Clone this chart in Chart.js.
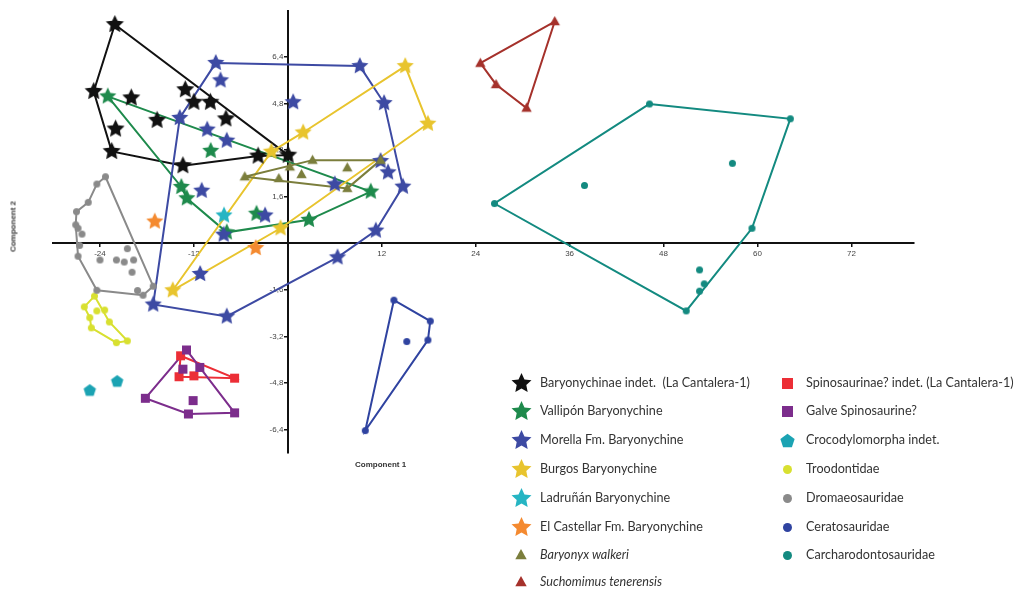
<!DOCTYPE html>
<html><head><meta charset="utf-8">
<script src="https://cdn.jsdelivr.net/npm/chart.js@4.4.1/dist/chart.umd.min.js"></script>
<style>
html,body{margin:0;padding:0;background:#fff;}
#wrap{position:relative;width:1021px;height:592px;overflow:hidden;background:#fff;}
#c{position:absolute;left:0;top:0;}
.axt{position:absolute;font-family:"Liberation Sans",Arial,sans-serif;font-size:8px;font-weight:bold;color:#333;white-space:nowrap;}
.lg{position:absolute;font-family:Lato,"Open Sans",sans-serif;font-size:12.6px;color:#333;white-space:pre;line-height:14px;}
.lm{position:absolute;}
</style></head>
<body><div id="wrap"><canvas id="c" width="1021" height="592"></canvas>
<div class="axt" style="left:355px;top:460px;">Component 1</div>
<div class="axt" style="left:-13px;top:222px;transform:rotate(-90deg);transform-origin:50% 50%;width:52px;text-align:center;">Component 2</div>
<div id="legend"></div>
</div>
<script>
// ---- tick values ----
const xTicks = [-24, -12, 12, 24, 36, 48, 60, 72];
const yTicks = [-6.4, -4.8, -3.2, -1.6, 1.6, 3.2, 4.8, 6.4];

// ---- series: [component1, component2] and hull vertex indices ----
const baryIndet = [[-22.1,7.52],[-24.8,5.22],[-20.0,5.0],[-22.0,3.93],[-22.5,3.16],[-16.7,4.23],[-13.1,5.28],[-12.0,4.85],[-9.9,4.85],[-7.9,4.28],[-13.4,2.67],[-3.8,3.0],[0.04,3.03]];
const baryIndetHull = [0,1,4,10,11,12];
const vallipon = [[-23.0,5.05],[-9.85,3.18],[-13.6,1.94],[-12.9,1.55],[-7.8,0.38],[-4.0,1.02],[2.7,0.81],[10.6,1.78]];
const valliponHull = [0,2,3,4,6,7];
const morella = [[-9.2,6.2],[-8.6,5.6],[9.2,6.09],[0.68,4.85],[12.3,4.82],[-13.8,4.31],[-10.3,3.91],[-7.8,3.53],[11.85,2.83],[12.8,2.44],[14.7,1.95],[6.0,2.03],[-11.0,1.81],[-2.9,0.96],[-8.2,0.30],[11.25,0.44],[6.35,-0.48],[-11.2,-1.05],[-17.2,-2.10],[-7.8,-2.51]];
const morellaHull = [0,2,4,10,15,16,19,18,5];
const burgos = [[15.0,6.09],[17.9,4.11],[1.96,3.81],[-2.1,3.15],[-0.93,0.52],[-14.7,-1.61]];
const burgosHull = [0,1,4,5,3,2];
const ladrunan = [[-8.15,0.96]];
const castellar = [[-17.0,0.75],[-4.1,-0.16]];
const baryonyx = [[-5.5,2.29],[-1.15,2.23],[0.26,2.63],[1.75,2.37],[3.16,2.86],[7.6,2.6],[7.6,1.89],[11.85,2.86]];
const baryonyxHull = [0,4,7,6];
const suchomimus = [[34.1,7.62],[24.6,6.19],[26.6,5.46],[30.5,4.65]];
const suchomimusHull = [0,1,2,3];
const spinoIndet = [[-13.7,-3.86],[-13.9,-4.58],[-12.0,-4.55],[-6.8,-4.63]];
const spinoIndetHull = [0,3,1];
const galve = [[-12.95,-3.66],[-13.4,-4.32],[-11.25,-4.26],[-12.1,-5.40],[-18.2,-5.32],[-12.7,-5.86],[-6.8,-5.82]];
const galveHull = [0,6,5,4];
const croco = [[-25.3,-5.03],[-21.8,-4.72]];
const troodont = [[-24.7,-1.81],[-26.0,-2.18],[-24.4,-2.32],[-23.4,-2.29],[-25.3,-2.55],[-22.8,-2.70],[-25.1,-2.90],[-21.9,-3.41],[-20.5,-3.35]];
const troodontHull = [0,1,4,6,7,8,5];
const dromaeo = [[-23.3,2.29],[-24.4,2.04],[-25.5,1.41],[-27.0,1.09],[-27.1,0.64],[-26.8,0.52],[-26.3,0.32],[-26.6,-0.07],[-26.8,-0.44],[-20.5,-0.18],[-24.0,-0.57],[-21.9,-0.57],[-20.9,-0.64],[-19.7,-0.57],[-19.9,-0.99],[-24.4,-1.61],[-19.2,-1.62],[-18.5,-1.78],[-17.2,-1.47]];
const dromaeoHull = [0,18,17,15,8,4,3,2,1];
const cerato = [[13.55,-1.95],[18.2,-2.67],[17.9,-3.32],[15.2,-3.37],[9.9,-6.43]];
const ceratoHull = [0,1,2,4];
const carcharo = [[46.2,4.79],[64.2,4.28],[56.8,2.75],[37.9,1.99],[26.4,1.37],[59.3,0.52],[52.6,-0.91],[53.2,-1.39],[52.6,-1.64],[50.9,-2.32]];
const carcharoHull = [0,1,5,9,4];

// ---- legend labels ----
const legendCol1 = ['Baryonychinae indet.  (La Cantalera-1)','Vallipón Baryonychine','Morella Fm. Baryonychine','Burgos Baryonychine','Ladruñán Baryonychine','El Castellar Fm. Baryonychine','Baryonyx walkeri','Suchomimus tenerensis'];
const legendCol2 = ['Spinosaurinae? indet. (La Cantalera-1)','Galve Spinosaurine?','Crocodylomorpha indet.','Troodontidae','Dromaeosauridae','Ceratosauridae','Carcharodontosauridae'];

// ---- styling ----
const groups = [
  {pts: carcharo, hull: carcharoHull, color:'#138a80', shape:'circle', size:7},
  {pts: cerato, hull: ceratoHull, color:'#2f43a0', shape:'circle', size:7},
  {pts: dromaeo, hull: dromaeoHull, color:'#8a8a8a', shape:'circle', size:7},
  {pts: troodont, hull: troodontHull, color:'#d8e030', shape:'circle', size:7},
  {pts: croco, hull: null, color:'#1ba3b3', shape:'pentagon', size:13},
  {pts: galve, hull: galveHull, color:'#7c2d8c', shape:'square', size:9},
  {pts: spinoIndet, hull: spinoIndetHull, color:'#ec2e36', shape:'square', size:9},
  {pts: suchomimus, hull: suchomimusHull, color:'#a5312b', shape:'triangle', size:11},
  {pts: baryonyx, hull: baryonyxHull, color:'#7b7e3c', shape:'triangle', size:11},
  {pts: castellar, hull: null, color:'#f48a30', shape:'star', size:18},
  {pts: ladrunan, hull: null, color:'#26b5c3', shape:'star', size:18},
  {pts: burgos, hull: burgosHull, color:'#e8c42e', shape:'star', size:18},
  {pts: morella, hull: morellaHull, color:'#3d4aa3', shape:'star', size:18},
  {pts: vallipon, hull: valliponHull, color:'#1e8a4c', shape:'star', size:18},
  {pts: baryIndet, hull: baryIndetHull, color:'#111111', shape:'star', size:19}
];
const legendStyle1 = [['star','#111111',21],['star','#1e8a4c',21],['star','#3d4aa3',21],['star','#e8c42e',21],['star','#26b5c3',21],['star','#f48a30',21],['triangle','#7b7e3c',12],['triangle','#a5312b',12]];
const legendStyle2 = [['square','#ec2e36',11],['square','#7c2d8c',11],['pentagon','#1ba3b3',15],['circle','#d8e030',9],['circle','#8a8a8a',9],['circle','#2f43a0',9],['circle','#138a80',9]];

function shapePath(ctx, shape, cx, cy, s){
  const R = s/2;
  ctx.beginPath();
  if (shape === 'star'){
    for (let i=0;i<10;i++){
      const r = i%2===0 ? R : R*0.48;
      const a = -Math.PI/2 + i*Math.PI/5;
      const px = cx + r*Math.cos(a), py = cy + r*Math.sin(a);
      i===0 ? ctx.moveTo(px,py) : ctx.lineTo(px,py);
    }
    ctx.closePath();
  } else if (shape === 'pentagon'){
    for (let i=0;i<5;i++){
      const a = -Math.PI/2 + i*2*Math.PI/5;
      const px = cx + R*Math.cos(a), py = cy + R*Math.sin(a)+R*0.1;
      i===0 ? ctx.moveTo(px,py) : ctx.lineTo(px,py);
    }
    ctx.closePath();
  } else if (shape === 'triangle'){
    ctx.moveTo(cx, cy-R);
    ctx.lineTo(cx+R*0.95, cy+R*0.7);
    ctx.lineTo(cx-R*0.95, cy+R*0.7);
    ctx.closePath();
  } else if (shape === 'square'){
    ctx.rect(cx-R, cy-R, s, s);
  } else {
    ctx.arc(cx, cy, R, 0, Math.PI*2);
  }
}
function markerCanvas(shape, color, s){
  const c = document.createElement('canvas');
  const w = Math.ceil(s)+2;
  c.width = w; c.height = w;
  const ctx = c.getContext('2d');
  shapePath(ctx, shape, w/2, w/2, s);
  ctx.fillStyle = color; ctx.fill();
  return c;
}

const datasets = [];
groups.forEach(g => {
  if (g.hull){
    const h = g.hull.map(i => ({x:g.pts[i][0], y:g.pts[i][1]}));
    h.push(h[0]);
    datasets.push({data:h, showLine:true, borderColor:g.color, borderWidth:2, pointRadius:0, fill:false, tension:0, order:2, clip:false});
  }
  datasets.push({data:g.pts.map(p => ({x:p[0], y:p[1]})), showLine:false, pointStyle:markerCanvas(g.shape,g.color,g.size), pointRadius:g.size/2, order:1, clip:false});
});

new Chart(document.getElementById('c'), {
  type:'scatter',
  data:{datasets},
  options:{
    responsive:false, animation:false, devicePixelRatio:1,
    layout:{padding:{left:53, right:107, top:8, bottom:139}},
    plugins:{legend:{display:false}, tooltip:{enabled:false}},
    scales:{
      x:{type:'linear', min:-30, max:80, position:{y:0},
        afterBuildTicks: s => { s.ticks = xTicks.map(v => ({value:v})); },
        ticks:{callback: v => String(v), font:{size:8, family:'"Liberation Sans", Arial'}, color:'#444', padding:3, maxRotation:0, autoSkip:false},
        grid:{drawOnChartArea:false, drawTicks:true, tickLength:3, color:'#111', lineWidth:1.5},
        border:{display:true, color:'#111', width:2}},
      y:{type:'linear', min:-7.2, max:8, position:{x:0},
        afterBuildTicks: s => { s.ticks = yTicks.map(v => ({value:v})); },
        ticks:{callback: v => v.toFixed(1).replace('.', ',') + '  ', font:{size:8, family:'"Liberation Sans", Arial'}, color:'#444', autoSkip:false},
        grid:{drawOnChartArea:false, drawTicks:true, tickLength:3, color:'#111', lineWidth:1.5},
        border:{display:true, color:'#111', width:2}}
    }
  }
});

// ---- HTML legend ----
const rows = [383, 411, 440, 469, 498, 527, 555, 582];
const lg = document.getElementById('legend');
function addItem(label, st, mx, tx, y, italic){
  const m = markerCanvas(st[0], st[1], st[2]);
  m.className = 'lm';
  m.style.left = (mx - m.width/2) + 'px';
  m.style.top = (y - m.height/2) + 'px';
  lg.appendChild(m);
  const t = document.createElement('div');
  t.className = 'lg';
  t.style.left = tx + 'px';
  t.style.top = (y - 7) + 'px';
  if (italic) t.style.fontStyle = 'italic';
  t.textContent = label;
  lg.appendChild(t);
}
legendCol1.forEach((l,i) => addItem(l, legendStyle1[i], 521, 540, rows[i], i >= 6));
legendCol2.forEach((l,i) => addItem(l, legendStyle2[i], 787, 806, rows[i], false));
</script>
</body></html>
